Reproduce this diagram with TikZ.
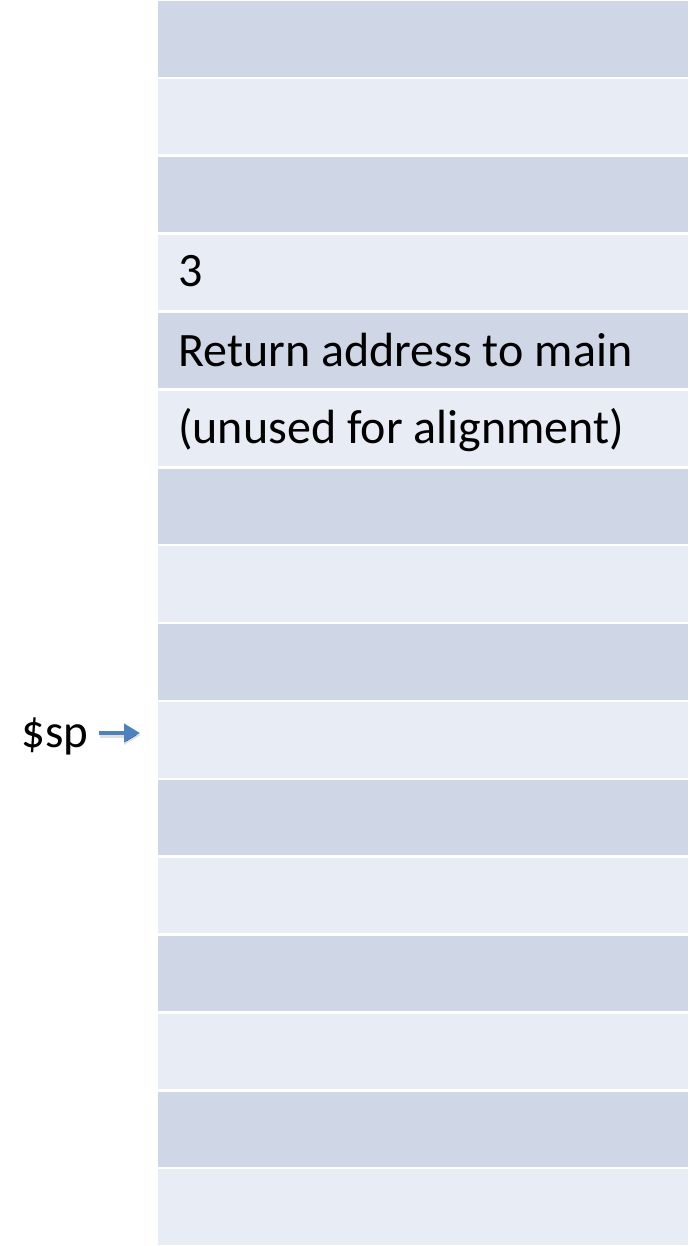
\documentclass[tikz,border=0pt]{standalone}
\usepackage{fontspec}
\setmainfont{Carlito}
\usetikzlibrary{arrows.meta}
\definecolor{rowdark}{HTML}{CFD6E6}
\definecolor{rowlight}{HTML}{E8ECF4}
\definecolor{ptrblue}{HTML}{4F81BD}
\tikzset{
  cell/.style={draw=white, line width=2.5pt},
  celltext/.style={anchor=base west, inner sep=0pt, font=\fontsize{48}{52}\selectfont, text=black},
  ptrlabel/.style={anchor=base west, inner sep=0pt, font=\fontsize{47}{52}\selectfont, text=black},
  ptrarrow/.style={draw=ptrblue, line width=4.5pt, -{Triangle[length=16pt,width=18pt]}},
  ptrshadow/.style={draw=black, draw opacity=0.12, line width=5.5pt, -{Triangle[length=17pt,width=19pt]}}
}
\begin{document}
\begin{tikzpicture}[x=1pt,y=-1pt]
  \useasboundingbox (0,0) rectangle (692,1246);
  % stack frame slots, alternating shades
  \foreach \i in {0,...,15}{
    \pgfmathsetmacro{\top}{77.875*\i}
    \pgfmathsetmacro{\bot}{77.875*(\i+1)}
    \pgfmathtruncatemacro{\odd}{mod(\i,2)}
    \ifnum\odd=0
      \fill[rowdark] (157,\top) rectangle (689,\bot);
    \else
      \fill[rowlight] (157,\top) rectangle (689,\bot);
    \fi
    \draw[cell] (157,\top) rectangle (689,\bot);
  }
  % slot contents
  \node[celltext] (arg) at (178,287) {3};
  \node[celltext] (ret) at (178,366) {Return address to main};
  \node[celltext] (pad) at (178,443) {(unused for alignment)};
  % stack pointer with a soft shadow under its arrow
  \node[ptrlabel] (sp) at (21,747) {\$sp};
  \coordinate (sptail) at (99,733);
  \coordinate (sptip) at (140,733);
  \draw[ptrshadow] ([shift={(1,2)}]sptail) -- ([shift={(1,2)}]sptip);
  \draw[ptrarrow] (sptail) -- (sptip);
\end{tikzpicture}
\end{document}
